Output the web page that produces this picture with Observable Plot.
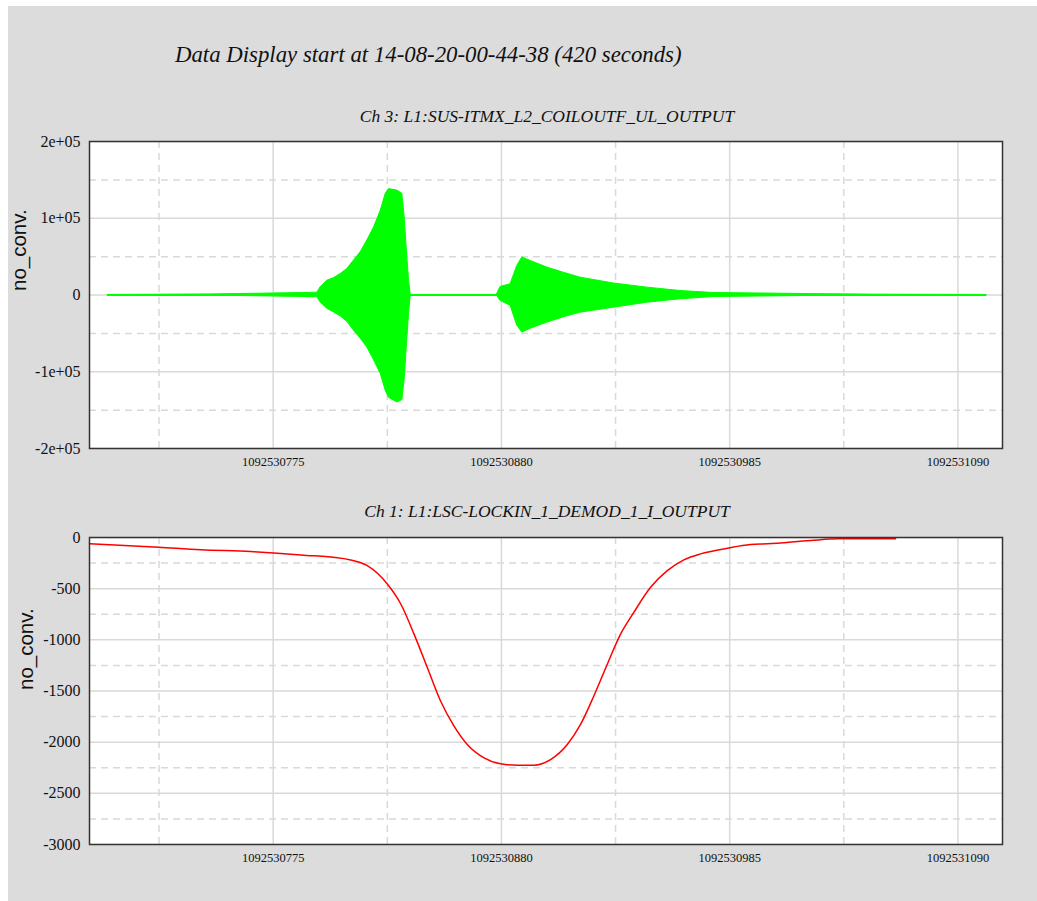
<!DOCTYPE html>
<html>
<head>
<meta charset="utf-8">
<script src="https://cdn.jsdelivr.net/npm/d3@7"></script>
<script src="https://cdn.jsdelivr.net/npm/@observablehq/plot@0.6"></script>
<style>
  html, body { margin: 0; padding: 0; background: #ffffff; }
  #wrap { position: absolute; left: 8px; top: 6px; width: 1029px; height: 895px; background: #dcdcdc; }
  .title { position: absolute; left: 167px; top: 37px; font: italic 22.8px/23px "Liberation Serif", "Times New Roman", serif; color: #111; white-space: nowrap; }
  .ptitle { position: absolute; transform: translateX(-50%); font: italic 17.5px/18px "Liberation Serif", "Times New Roman", serif; color: #111; white-space: nowrap; }
  .panel { position: absolute; left: 0; }
  .panel svg text { font-family: "Liberation Serif", "Times New Roman", serif; }
  .panel svg g.ylab text { font-family: "Liberation Sans", Arial, sans-serif; }
</style>
</head>
<body>
<div id="wrap">
  <div class="title">Data Display start at 14-08-20-00-44-38 (420 seconds)</div>
  <div class="ptitle" style="left:539px; top:101px;">Ch 3: L1:SUS-ITMX_L2_COILOUTF_UL_OUTPUT</div>
  <div class="panel" id="top" style="top:94px;"></div>
  <div class="ptitle" style="left:539px; top:496px;">Ch 1: L1:LSC-LOCKIN_1_DEMOD_1_I_OUTPUT</div>
  <div class="panel" id="bot" style="top:494px;"></div>
</div>
<script>
// ---- shared x axis (GPS seconds) ----
const xDomain = [1092530690.5, 1092531110.5];
const xTicks = [1092530775, 1092530880, 1092530985, 1092531090];
const xMinor = [1092530722.5, 1092530827.5, 1092530932.5, 1092531037.5];
const yAxisTitle = "no_conv.";

// ---- Ch 3 (top): envelope of the green oscillation ----
const topYDomain = [-200000, 200000];
const topYTicks = [-200000, -100000, 0, 100000, 200000];
const topYLabels = ["-2e+05", "-1e+05", "0", "1e+05", "2e+05"];
const topYMinor = [-150000, -50000, 50000, 150000];

const ch3Time = [
  1092530698.9, 1092530746.3, 1092530764.7, 1092530787.7, 1092530795.3,
  1092530796.9, 1092530799.9, 1092530803.0, 1092530806.1, 1092530809.1,
  1092530812.2, 1092530815.3, 1092530818.3, 1092530821.4, 1092530824.5,
  1092530826.8, 1092530828.3, 1092530832.1, 1092530834.4, 1092530835.5,
  1092530836.4, 1092530837.5, 1092530838.3, 1092530877.8, 1092530879.6,
  1092530884.2, 1092530887.3, 1092530889.6, 1092530893.4, 1092530901.1,
  1092530908.7, 1092530916.4, 1092530931.7, 1092530947.1, 1092530962.4,
  1092530977.7, 1092530997.7, 1092531022.2, 1092531050.0, 1092531102.7
];
const ch3Upper = [
  0, 800, 1500, 2500, 3000,
  10500, 18700, 22000, 27500, 34000,
  45000, 56000, 71000, 88000, 110000,
  132000, 138000, 136000, 132000, 101000,
  62000, 18700, 0, 0, 10500,
  14000, 38000, 49000, 44400, 35700,
  29000, 22600, 15000, 9600, 5200,
  2600, 2000, 1200, 500, 0
];
const ch3Lower = [
  0, -800, -1500, -2500, -3000,
  -10000, -18000, -22700, -28000, -35000,
  -46700, -57000, -68500, -85000, -103000,
  -125000, -134000, -140000, -137000, -110000,
  -70000, -24000, 0, 0, -7800,
  -14000, -40000, -49000, -44000, -36000,
  -29000, -23000, -16500, -10000, -5600,
  -2600, -2000, -1200, -500, 0
];

// ---- Ch 1 (bottom): red demod output ----
const botYDomain = [-3000, 0];
const botYTicks = [-3000, -2500, -2000, -1500, -1000, -500, 0];
const botYMinor = [-2750, -2250, -1750, -1250, -750, -250];

const ch1Time = [
  1092530690.5, 1092530722.4, 1092530741.7, 1092530764.7, 1092530787.7,
  1092530810.7, 1092530818.3, 1092530827.5, 1092530833.7, 1092530839.8,
  1092530845.9, 1092530852.0, 1092530858.2, 1092530864.3, 1092530872.0,
  1092530879.6, 1092530887.3, 1092530895.0, 1092530902.6, 1092530910.3,
  1092530916.4, 1092530922.5, 1092530928.7, 1092530934.8, 1092530940.9,
  1092530948.6, 1092530956.3, 1092530963.9, 1092530971.6, 1092530983.9,
  1092530994.6, 1092531002.3, 1092531022.2, 1092531035.1, 1092531061.3
];
const ch1Value = [
  -60, -95, -120, -137, -170,
  -219, -275, -454, -650, -944,
  -1271, -1598, -1843, -2023, -2154,
  -2212, -2225, -2225, -2170, -2023,
  -1827, -1549, -1238, -944, -732,
  -487, -324, -219, -160, -105,
  -69, -62, -29, -13, -13
];

// ---- build tables ----
const ch3 = ch3Time.map((t, i) => ({t, hi: ch3Upper[i], lo: ch3Lower[i]}));
const ch3Base = [{t: ch3Time[0], v: 0}, {t: ch3Time[ch3Time.length - 1], v: 0}];
const ch1 = ch1Time.map((t, i) => ({t, v: ch1Value[i]}));
const topLabelMap = new Map(topYTicks.map((d, i) => [d, topYLabels[i]]));

const gridColor = "#d9d9d9";
const dash = "7,5";
const style = {background: "transparent", fontFamily: "'Liberation Serif', 'Times New Roman', serif", color: "#111", overflow: "visible"};

function gridMarks(yMajor, yMinor) {
  return [
    Plot.frame({fill: "white", stroke: "none"}),
    Plot.ruleY(yMajor, {stroke: gridColor, strokeWidth: 1.5}),
    Plot.ruleY(yMinor, {stroke: gridColor, strokeWidth: 1.5, strokeDasharray: dash}),
    Plot.ruleX(xTicks, {stroke: gridColor, strokeWidth: 1.5}),
    Plot.ruleX(xMinor, {stroke: gridColor, strokeWidth: 1.5, strokeDasharray: dash})
  ];
}

function yTitle(dx, dy) {
  return Plot.text([yAxisTitle], {
    text: d => d, frameAnchor: "left", dx, dy, rotate: -90,
    fontSize: 20.5, fontFamily: "Liberation Sans", fill: "#111", className: "ylab"
  });
}

const topPlot = Plot.plot({
  width: 1022, height: 378,
  marginTop: 41, marginLeft: 81, marginRight: 28, marginBottom: 30,
  style,
  x: {domain: xDomain, label: null},
  y: {domain: topYDomain, label: null},
  marks: [
    ...gridMarks(topYTicks, topYMinor),
    Plot.areaY(ch3, {x: "t", y1: "lo", y2: "hi", fill: "#00ff00", stroke: "#00ff00", strokeWidth: 1}),
    Plot.lineY(ch3Base, {x: "t", y: "v", stroke: "#00ff00", strokeWidth: 2}),
    Plot.frame({stroke: "#333", strokeWidth: 1.5}),
    Plot.axisX({ticks: xTicks, tickFormat: d => String(d), tickSize: 0, tickPadding: 9, fontSize: 12.5, label: null}),
    Plot.axisY({ticks: topYTicks, tickFormat: d => topLabelMap.get(d), tickSize: 0, tickPadding: 9, fontSize: 16, label: null}),
    yTitle(-70, -4)
  ]
});
document.getElementById("top").appendChild(topPlot);

const botPlot = Plot.plot({
  width: 1022, height: 374,
  marginTop: 37, marginLeft: 81, marginRight: 28, marginBottom: 30,
  style,
  x: {domain: xDomain, label: null},
  y: {domain: botYDomain, label: null},
  marks: [
    ...gridMarks(botYTicks, botYMinor),
    Plot.lineY(ch1, {x: "t", y: "v", stroke: "#ff0000", strokeWidth: 1.5, curve: "monotone-x"}),
    Plot.frame({stroke: "#333", strokeWidth: 1.5}),
    Plot.axisX({ticks: xTicks, tickFormat: d => String(d), tickSize: 0, tickPadding: 9, fontSize: 12.5, label: null}),
    Plot.axisY({ticks: botYTicks, tickFormat: d => String(d), tickSize: 0, tickPadding: 9, fontSize: 16, label: null}),
    yTitle(-63, -1)
  ]
});
document.getElementById("bot").appendChild(botPlot);
</script>
</body>
</html>
